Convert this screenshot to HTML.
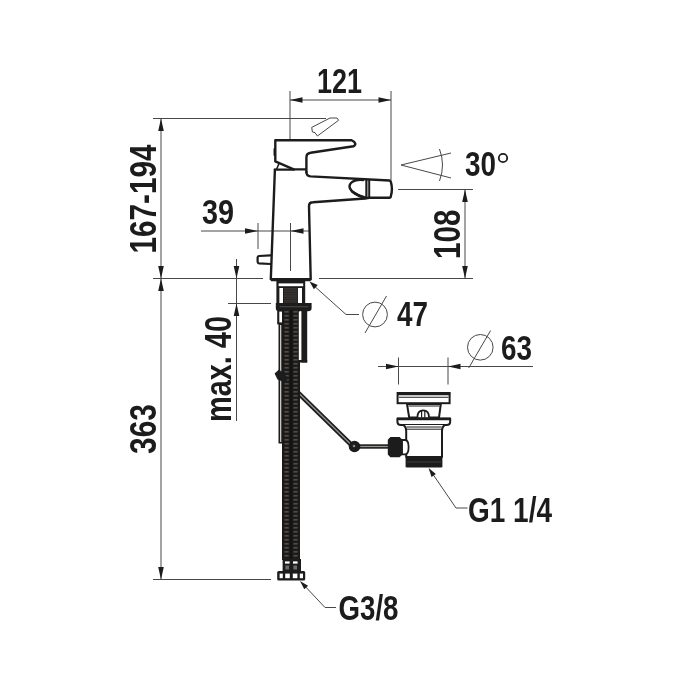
<!DOCTYPE html>
<html>
<head>
<meta charset="utf-8">
<title>Technical drawing</title>
<style>
html, body { margin: 0; padding: 0; background: #ffffff; }
body { width: 700px; height: 700px; overflow: hidden; }
svg { display: block; filter: blur(0.4px); }
text { font-family: "Liberation Sans", sans-serif; font-weight: bold; fill: #1c1c1c; }
</style>
</head>
<body>
<svg width="700" height="700" viewBox="0 0 700 700">
<rect width="700" height="700" fill="#ffffff"/>
<line x1="290" y1="91" x2="290" y2="140" stroke="#484848" stroke-width="1.0" />
<line x1="391" y1="91" x2="391" y2="180" stroke="#484848" stroke-width="1.0" />
<line x1="290" y1="100" x2="391" y2="100" stroke="#484848" stroke-width="1.0" />
<polygon points="290.00,100.00 302.50,97.20 302.50,102.80" fill="#1c1c1c"/>
<polygon points="391.00,100.00 378.50,102.80 378.50,97.20" fill="#1c1c1c"/>
<line x1="153" y1="118.5" x2="326" y2="118.5" stroke="#484848" stroke-width="1.0" />
<line x1="161" y1="118.5" x2="161" y2="579.5" stroke="#484848" stroke-width="1.0" />
<line x1="153" y1="278.5" x2="263" y2="278.5" stroke="#484848" stroke-width="1.0" />
<line x1="319" y1="278.5" x2="473" y2="278.5" stroke="#484848" stroke-width="1.0" />
<line x1="153" y1="579.5" x2="271" y2="579.5" stroke="#484848" stroke-width="1.0" />
<polygon points="161.00,118.50 163.80,131.00 158.20,131.00" fill="#1c1c1c"/>
<polygon points="161.00,278.50 158.20,266.00 163.80,266.00" fill="#1c1c1c"/>
<polygon points="161.00,278.50 163.80,291.00 158.20,291.00" fill="#1c1c1c"/>
<polygon points="161.00,579.50 158.20,567.00 163.80,567.00" fill="#1c1c1c"/>
<line x1="201" y1="231" x2="310" y2="231" stroke="#484848" stroke-width="1.0" />
<line x1="258" y1="223" x2="258" y2="249" stroke="#484848" stroke-width="1.0" />
<line x1="290.5" y1="223" x2="290.5" y2="271" stroke="#484848" stroke-width="1.0" />
<polygon points="258.00,231.00 245.00,233.80 245.00,228.20" fill="#1c1c1c"/>
<polygon points="290.50,231.00 303.50,228.20 303.50,233.80" fill="#1c1c1c"/>
<line x1="236.5" y1="259" x2="236.5" y2="421" stroke="#484848" stroke-width="1.0" />
<line x1="228" y1="303.5" x2="271" y2="303.5" stroke="#484848" stroke-width="1.0" />
<polygon points="236.50,278.50 233.70,266.00 239.30,266.00" fill="#1c1c1c"/>
<polygon points="236.50,303.50 239.30,316.00 233.70,316.00" fill="#1c1c1c"/>
<line x1="398" y1="189.5" x2="473" y2="189.5" stroke="#484848" stroke-width="1.0" />
<line x1="465" y1="189.5" x2="465" y2="278.5" stroke="#484848" stroke-width="1.0" />
<polygon points="465.00,189.50 467.80,202.00 462.20,202.00" fill="#1c1c1c"/>
<polygon points="465.00,278.50 462.20,266.00 467.80,266.00" fill="#1c1c1c"/>
<line x1="401" y1="165" x2="451" y2="153" stroke="#484848" stroke-width="1.0" />
<line x1="401" y1="165" x2="451" y2="178" stroke="#484848" stroke-width="1.0" />
<path d="M439.5 149 Q445.5 165 439.5 181" fill="none" stroke="#484848" stroke-width="1"/>
<polyline points="312,284 346,314.5 359,314.5" fill="none" stroke="#484848" stroke-width="1"/>
<polygon points="309.50,281.50 317.76,285.02 313.89,289.33" fill="#1c1c1c"/>
<circle cx="375" cy="314.5" r="12.4" fill="none" stroke="#484848" stroke-width="1"/>
<line x1="365" y1="333" x2="386.5" y2="296" stroke="#484848" stroke-width="1.0" />
<line x1="378" y1="366.5" x2="533" y2="366.5" stroke="#484848" stroke-width="1.0" />
<line x1="398.5" y1="357.5" x2="398.5" y2="384.5" stroke="#484848" stroke-width="1.0" />
<line x1="448" y1="357.5" x2="448" y2="384.5" stroke="#484848" stroke-width="1.0" />
<polygon points="398.50,366.50 386.00,369.30 386.00,363.70" fill="#1c1c1c"/>
<polygon points="448.00,366.50 460.50,363.70 460.50,369.30" fill="#1c1c1c"/>
<circle cx="480.3" cy="347.3" r="12.8" fill="none" stroke="#484848" stroke-width="1"/>
<line x1="468.7" y1="368" x2="490.6" y2="330.5" stroke="#484848" stroke-width="1.0" />
<polyline points="430,470 456,508 467.5,508" fill="none" stroke="#484848" stroke-width="1"/>
<polygon points="428.60,468.00 435.83,473.96 431.54,476.90" fill="#1c1c1c"/>
<polyline points="302,583 325,607.5 336,607.5" fill="none" stroke="#484848" stroke-width="1"/>
<polygon points="300.00,581.00 308.06,585.78 304.26,589.34" fill="#1c1c1c"/>
<text x="317" y="93" font-size="35.5" textLength="45" lengthAdjust="spacingAndGlyphs" text-anchor="start">121</text>
<text x="202" y="224" font-size="35.5" textLength="32" lengthAdjust="spacingAndGlyphs" text-anchor="start">39</text>
<text x="397" y="326" font-size="35.5" textLength="31" lengthAdjust="spacingAndGlyphs" text-anchor="start">47</text>
<text x="501" y="360" font-size="35.5" textLength="31" lengthAdjust="spacingAndGlyphs" text-anchor="start">63</text>
<text x="465" y="176" font-size="35.5" textLength="31" lengthAdjust="spacingAndGlyphs" text-anchor="start">30</text>
<circle cx="503" cy="158" r="4.2" fill="none" stroke="#1c1c1c" stroke-width="1.8"/>
<text x="468" y="521.5" font-size="35.5" textLength="84" lengthAdjust="spacingAndGlyphs" text-anchor="start">G1 1/4</text>
<text x="338.5" y="620" font-size="35.5" textLength="60" lengthAdjust="spacingAndGlyphs" text-anchor="start">G3/8</text>
<text x="156" y="253.5" font-size="37" textLength="109" lengthAdjust="spacingAndGlyphs" text-anchor="start" transform="rotate(-90 156 253.5)">167-194</text>
<text x="156" y="454" font-size="37" textLength="50" lengthAdjust="spacingAndGlyphs" text-anchor="start" transform="rotate(-90 156 454)">363</text>
<text x="231" y="422" font-size="37" textLength="106" lengthAdjust="spacingAndGlyphs" text-anchor="start" transform="rotate(-90 231 422)">max. 40</text>
<text x="459.7" y="259" font-size="37" textLength="49.5" lengthAdjust="spacingAndGlyphs" text-anchor="start" transform="rotate(-90 459.7 259)">108</text>
<path d="M311.7 127.4 L330 118 L337 118 L338.6 120.3 L317.4 136 L315 132.6 L312.4 132 Z" fill="#fff" stroke="#484848" stroke-width="1"/>
<path d="M274.9 169.6 L270.8 279.3 L310.7 279.3 L309 206 Q309 202.3 313 202.2 L365 198.5 L369 197.7 L389.4 197.7 Q390.7 197.7 390.9 196 Q392.9 189 390.9 182.2 Q390.7 180.6 389.4 180.5 L310.6 176.4 Q306.4 176 306.4 172" fill="none" stroke="#1c1c1c" stroke-linejoin="round" stroke-linecap="round" stroke-width="2.4" fill="#fff"/>
<line x1="271" y1="279.6" x2="310.6" y2="279.6" stroke="#1c1c1c" stroke-width="3.4" />
<path d="M306.4 172 L306.4 157.5 Q306.4 153.4 310.6 152.8 L353.6 146.2 Q357.8 143.4 351.6 140.3 L275.3 140.3 L275.3 161.3 L293.7 169.4 L306.4 169.4" fill="none" stroke="#1c1c1c" stroke-linejoin="round" stroke-linecap="round" stroke-width="2.4" fill="#fff"/>
<path d="M274.8 169.6 L294 169.6" fill="none" stroke="#1c1c1c" stroke-linejoin="round" stroke-linecap="round" stroke-width="2.2"/>
<path d="M278.7 164.3 L276.8 168.8" fill="none" stroke="#1c1c1c" stroke-linejoin="round" stroke-linecap="round" stroke-width="1.6"/>
<path d="M274.4 149 L274.4 155" fill="none" stroke="#1c1c1c" stroke-linejoin="round" stroke-linecap="round" stroke-width="1.8"/>
<path d="M363 180 C354 178.8 348.3 183.5 349.8 188 C351.3 192.5 358 195.6 365 198" fill="none" stroke="#1c1c1c" stroke-linejoin="round" stroke-linecap="round" stroke-width="2.4"/>
<path d="M352 191.5 C356 194.5 360 196.6 365 197.4" fill="none" stroke="#1c1c1c" stroke-linejoin="round" stroke-linecap="round" stroke-width="2.4"/>
<line x1="366.4" y1="179.6" x2="366.4" y2="198.4" stroke="#1c1c1c" stroke-width="2.2" />
<line x1="369.2" y1="179.8" x2="369.2" y2="198" stroke="#1c1c1c" stroke-width="2.0" />
<path d="M270.6 255.3 L259 256 Q257.6 256.2 257.6 257.6 L257.6 261.8 Q257.6 263.2 259 263.4 L270.6 264" fill="none" stroke="#1c1c1c" stroke-linejoin="round" stroke-linecap="round" stroke-width="2.2" fill="#fff"/>
<defs>
<pattern id="hose" x="282" y="310" width="9" height="4" patternUnits="userSpaceOnUse">
<rect width="9" height="4" fill="#1b1a19"/>
<rect x="2.2" y="0.9" width="4.8" height="1.7" fill="#3f3d3b"/>
<rect x="3.2" y="1.1" width="2.6" height="1.3" fill="#52504d"/>
</pattern>
<pattern id="thread" width="4" height="2.4" patternUnits="userSpaceOnUse">
<rect width="4" height="2.4" fill="#262422"/>
<rect x="0" y="0.4" width="4" height="0.8" fill="#45423e"/>
</pattern>
</defs>
<rect x="276.4" y="281" width="28.8" height="22" fill="#1c1c1c"/>
<rect x="278.6" y="283.4" width="24.6" height="2.8" fill="#fff"/>
<rect x="279.4" y="288" width="3.6" height="15" fill="#fff"/>
<rect x="298" y="288" width="4" height="15" fill="#fff"/>
<rect x="284" y="288" width="13.4" height="15" fill="url(#thread)"/>
<path d="M275.8 303 L311.6 303 L311.6 308 Q311.6 311.2 308 311.2 L279 311.2 Q275.8 311.2 275.8 308 Z" fill="#1c1c1c"/>
<rect x="279.5" y="306.3" width="29" height="0.9" fill="#55524e"/>
<rect x="277.2" y="310" width="6" height="14.4" fill="#1c1c1c"/>
<rect x="279.3" y="311.6" width="3.5" height="10.8" fill="#fff"/>
<rect x="278.5" y="323.5" width="4.3" height="120" fill="#1c1c1c"/>
<rect x="280" y="325" width="1.3" height="117" fill="#c9c7c3"/>
<line x1="283" y1="378" x2="352" y2="445.5" stroke="#1c1c1c" stroke-width="4.6" />
<line x1="298" y1="392.5" x2="351" y2="444.5" stroke="#9a9792" stroke-width="1.2" />
<rect x="282" y="310" width="18" height="250" fill="url(#hose)"/>
<rect x="290.6" y="310" width="1" height="250" fill="#0e0e0e"/>
<rect x="298.8" y="311.4" width="2.6" height="49" fill="#fff"/>
<rect x="301.4" y="310" width="5.8" height="52.5" fill="#1c1c1c"/>
<rect x="298.4" y="360" width="8.8" height="2.5" fill="#1c1c1c"/>
<rect x="282.6" y="559" width="18.4" height="12.5" fill="#1c1c1c"/>
<rect x="285" y="561.4" width="4.6" height="2.2" fill="#fff"/>
<rect x="293" y="561.4" width="4.6" height="2.2" fill="#fff"/>
<rect x="285.4" y="565.5" width="3.6" height="4" fill="#6f6c66"/>
<rect x="293.4" y="565.5" width="3.6" height="4" fill="#6f6c66"/>
<rect x="277.2" y="571" width="28" height="9.6" rx="1.5" fill="#1c1c1c"/>
<rect x="279.6" y="573.6" width="3.2" height="4.6" fill="#fff"/>
<rect x="285.2" y="573.6" width="4.6" height="4.6" fill="#fff"/>
<rect x="292.8" y="573.6" width="4.6" height="4.6" fill="#fff"/>
<rect x="299.8" y="573.6" width="3.2" height="4.6" fill="#fff"/>
<path d="M274.6 373.5 L279 369.6 L288.5 378 L285 382.6 L277.5 379.5 Z" fill="#1c1c1c"/>
<line x1="358" y1="446.5" x2="389" y2="446.5" stroke="#1c1c1c" stroke-width="4.4" />
<line x1="360" y1="446.5" x2="388" y2="446.5" stroke="#9a9792" stroke-width="1.2" />
<circle cx="354.5" cy="446.5" r="5.8" fill="#1c1c1c"/>
<circle cx="354" cy="446" r="1.3" fill="#8a8782"/>
<rect x="397.6" y="393" width="52" height="10.2" fill="#fff" stroke="#1c1c1c" stroke-width="2"/>
<line x1="397" y1="393.9" x2="450.2" y2="393.9" stroke="#1c1c1c" stroke-width="2.8" />
<line x1="399" y1="397.2" x2="448.4" y2="397.2" stroke="#1c1c1c" stroke-width="1.1" />
<path d="M407 404 L409.2 417.6 L439 417.6 L440.8 404 Z" fill="#fff" stroke="#1c1c1c" stroke-width="2" stroke-linejoin="round"/>
<line x1="408.5" y1="406" x2="439.5" y2="406" stroke="#1c1c1c" stroke-width="1" />
<path d="M417.4 417.4 Q417.4 410.4 423.2 410.4 Q429 410.4 429 417.4" fill="#fff" stroke="#1c1c1c" stroke-width="1.8"/>
<line x1="421.6" y1="411" x2="421.6" y2="417.4" stroke="#1c1c1c" stroke-width="1.2" />
<line x1="424.8" y1="411" x2="424.8" y2="417.4" stroke="#1c1c1c" stroke-width="1.2" />
<path d="M397.4 418.4 L450.2 418.4 L450.2 421.5 Q450.2 425 446.5 425 L401 425 Q397.4 425 397.4 421.5 Z" fill="#fff" stroke="#1c1c1c" stroke-width="2" stroke-linejoin="round"/>
<line x1="397" y1="419" x2="450.4" y2="419" stroke="#1c1c1c" stroke-width="2.6" />
<path d="M403.5 425 Q406.2 427 406.2 431 L406.2 457 L442 457 L442 431 Q442 427 444.6 425" fill="#fff" stroke="#1c1c1c" stroke-width="2" stroke-linejoin="round"/>
<line x1="406.6" y1="427" x2="441.6" y2="427" stroke="#1c1c1c" stroke-width="1" />
<line x1="406.6" y1="429.2" x2="441.6" y2="429.2" stroke="#1c1c1c" stroke-width="1" />
<rect x="405.6" y="456.2" width="36.8" height="11.2" rx="1.2" fill="#1c1c1c"/>
<line x1="407" y1="462" x2="441" y2="462" stroke="#4c4945" stroke-width="0.8" />
<path d="M402 440 L405 440 Q408.6 440 408.6 447 Q408.6 454.4 405 454.4 L402 454.4 Z" fill="#fff" stroke="#1c1c1c" stroke-width="1.8"/>
<path d="M390.4 437 L399.6 437 L402.4 439.8 L402.4 454.4 L399.6 457.2 L390.4 457.2 L387.8 454.4 L387.8 439.8 Z" fill="#1c1c1c"/>
</svg>
</body>
</html>
